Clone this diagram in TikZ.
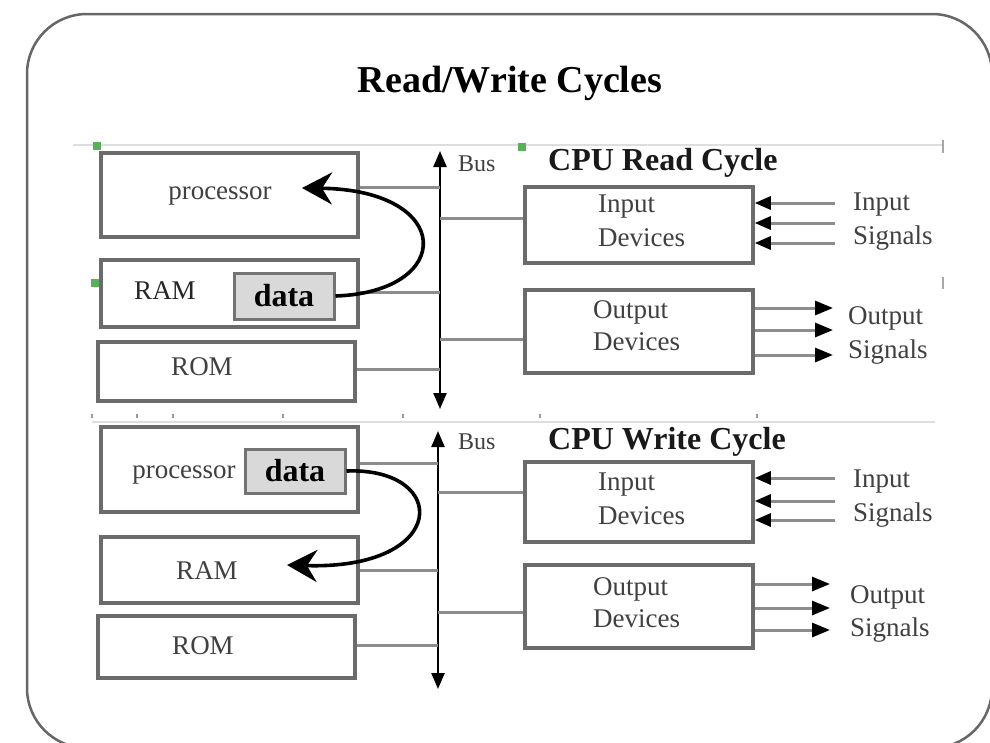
\documentclass[tikz,border=0pt]{standalone}
\usepackage{fontspec}
\setmainfont{Liberation Serif}
\usetikzlibrary{arrows.meta}
\definecolor{handle}{RGB}{90,175,90}
\tikzset{
  blk/.style={draw=black!58, line width=3.5pt, fill=white, inner sep=0pt, minimum width=#1},
  blk/.default=257pt,
  datab/.style={draw=black!55, line width=3pt, fill=black!15, inner sep=0pt,
     minimum width=100pt, font=\fontsize{32}{34}\selectfont\bfseries},
  lbl/.style={inner sep=0pt, text=black!75, font=\fontsize{27}{30}\selectfont,
     text height=19pt, text depth=6pt},
  head/.style={inner sep=0pt, text=black!90, font=\fontsize{32}{34}\selectfont\bfseries},
  conn/.style={draw=black!45, line width=3pt},
  busline/.style={draw=black, line width=2.4pt, {Triangle[length=16pt,width=13pt]}-{Triangle[length=16pt,width=13pt]}},
  insig/.style={draw=black!45, line width=3pt, -{Triangle[length=16pt,width=13pt,color=black]}},
  outsig/.style={draw=black!45, line width=3pt, -{Triangle[length=18pt,width=14pt,color=black]}},
  flow/.style={draw=black, line width=3.6pt, -{Stealth[length=30pt,width=32pt,inset=10pt]}},
  sep/.style={draw=black!13, line width=2pt},
  tick/.style={draw=black!35, line width=2pt},
  hnd/.style={fill=handle, draw=none, minimum size=8pt, inner sep=0pt}
}
\begin{document}
\begin{tikzpicture}[x=1pt,y=-1pt]
\useasboundingbox (0,0) rectangle (990,742);
\begin{scope}
\clip (0,0) rectangle (990,742);
\draw[black!60, line width=2.5pt, rounded corners=60pt] (27,14) rectangle (992,748);
\end{scope}

% title
\node[inner sep=0pt, font=\fontsize{38}{40}\selectfont\bfseries] (title) at (510,83) {Read/Write Cycles};

% separators and guide marks
\draw[sep] (73,145) -- (943,145);
\draw[sep] (92,422) -- (935,422);
\draw[tick] (943,140) -- (943,153);
\draw[tick] (943,277) -- (943,289);
\foreach \xx in {92,137,173,283,403,540,757} \draw[black!40, line width=1.5pt] (\xx,414) -- (\xx,418);
\node[hnd] (h1) at (97,146) {};
\node[hnd] (h2) at (522,147) {};
\node[hnd] (h3) at (95,283) {};

%% ---------------- READ CYCLE ----------------
\node[blk, minimum height=84pt] (procT) at (229.5,195) {};
\node[lbl] (procTl) at (220,193) {processor};
\node[blk, minimum height=67pt] (ramT) at (229.5,293.5) {};
\node[lbl, text=black!85] (ramTl) at (165,293) {RAM};
\node[datab, minimum height=46pt] (dataT) at (284,296) {data};
\node[blk, minimum height=59pt] (romT) at (226.5,371.5) {};
\node[lbl] (romTl) at (202,369) {ROM};

\coordinate (busTtop) at (440,151);
\coordinate (busTbot) at (440,409);
\draw[busline] (busTbot) -- (busTtop);
\node[lbl, anchor=west, font=\fontsize{24}{26}\selectfont] (busTl) at (458,165) {Bus};

\node[head, anchor=west] (readh) at (548,163) {CPU Read Cycle};

\node[blk=228pt, minimum height=76pt] (inT) at (639,225) {};
\node[lbl, anchor=west] (inTa) at (598,206) {Input};
\node[lbl, anchor=west] (inTb) at (598,240) {Devices};
\node[blk=228pt, minimum height=83pt] (outT) at (639,331.5) {};
\node[lbl, anchor=west] (outTa) at (593,312) {Output};
\node[lbl, anchor=west] (outTb) at (593,344) {Devices};

\coordinate (bT1) at (440,187);
\coordinate (bT2) at (440,218);
\coordinate (bT3) at (440,292);
\coordinate (bT4) at (440,339);
\coordinate (bT5) at (440,369);
\draw[conn] (procT.east |- bT1) -- (bT1);
\draw[conn] (bT2) -- (inT.west |- bT2);
\draw[conn] (ramT.east |- bT3) -- (bT3);
\draw[conn] (bT4) -- (outT.west |- bT4);
\draw[conn] (romT.east |- bT5) -- (bT5);

\coordinate (iT1) at (835,203);
\coordinate (iT2) at (835,223);
\coordinate (iT3) at (835,243);
\foreach \c in {iT1,iT2,iT3} \draw[insig] (\c) -- (inT.east |- \c);
\node[lbl, anchor=west] (isTa) at (853,204) {Input};
\node[lbl, anchor=west] (isTb) at (853,238) {Signals};

\coordinate (oT1) at (833,308);
\coordinate (oT2) at (833,330);
\coordinate (oT3) at (833,355);
\foreach \c in {oT1,oT2,oT3} \draw[outsig] (outT.east |- \c) -- (\c);
\node[lbl, anchor=west] (osTa) at (848,318) {Output};
\node[lbl, anchor=west] (osTb) at (848,352) {Signals};

\coordinate (rdT) at (302,188);
\draw[flow] (dataT.east) .. controls (455,292) and (455,190) .. (rdT);

%% ---------------- WRITE CYCLE ----------------
\node[blk, minimum height=85pt] (procB) at (229.5,469.5) {};
\node[lbl] (procBl) at (184,472) {processor};
\node[datab, minimum height=44pt] (dataB) at (295,471) {data};
\node[blk, minimum height=66pt] (ramB) at (229.5,570) {};
\node[lbl] (ramBl) at (207,573) {RAM};
\node[blk, minimum height=62pt] (romB) at (226.5,647) {};
\node[lbl] (romBl) at (203,648) {ROM};

\coordinate (busBtop) at (438,431);
\coordinate (busBbot) at (438,689);
\draw[busline] (busBbot) -- (busBtop);
\node[lbl, anchor=west, font=\fontsize{24}{26}\selectfont] (busBl) at (458,443) {Bus};

\node[head, anchor=west] (writeh) at (548,442) {CPU Write Cycle};

\node[blk=228pt, minimum height=80pt] (inB) at (639,502) {};
\node[lbl, anchor=west] (inBa) at (598,484) {Input};
\node[lbl, anchor=west] (inBb) at (598,518) {Devices};
\node[blk=228pt, minimum height=83pt] (outB) at (639,606.5) {};
\node[lbl, anchor=west] (outBa) at (593,589) {Output};
\node[lbl, anchor=west] (outBb) at (593,621) {Devices};

\coordinate (bB1) at (438,463);
\coordinate (bB2) at (438,492);
\coordinate (bB3) at (438,570);
\coordinate (bB4) at (438,612);
\coordinate (bB5) at (438,645);
\draw[conn] (procB.east |- bB1) -- (bB1);
\draw[conn] (bB2) -- (inB.west |- bB2);
\draw[conn] (ramB.east |- bB3) -- (bB3);
\draw[conn] (bB4) -- (outB.west |- bB4);
\draw[conn] (romB.east |- bB5) -- (bB5);

\coordinate (iB1) at (835,478);
\coordinate (iB2) at (835,501);
\coordinate (iB3) at (835,520);
\foreach \c in {iB1,iB2,iB3} \draw[insig] (\c) -- (inB.east |- \c);
\node[lbl, anchor=west] (isBa) at (853,481) {Input};
\node[lbl, anchor=west] (isBb) at (853,515) {Signals};

\coordinate (oB1) at (830,584);
\coordinate (oB2) at (830,608);
\coordinate (oB3) at (830,630);
\foreach \c in {oB1,oB2,oB3} \draw[outsig] (outB.east |- \c) -- (\c);
\node[lbl, anchor=west] (osBa) at (850,597) {Output};
\node[lbl, anchor=west] (osBb) at (850,630) {Signals};

\coordinate (wrB) at (287,565);
\draw[flow] (dataB.east) .. controls (450,467) and (450,570) .. (wrB);
\end{tikzpicture}
\end{document}
